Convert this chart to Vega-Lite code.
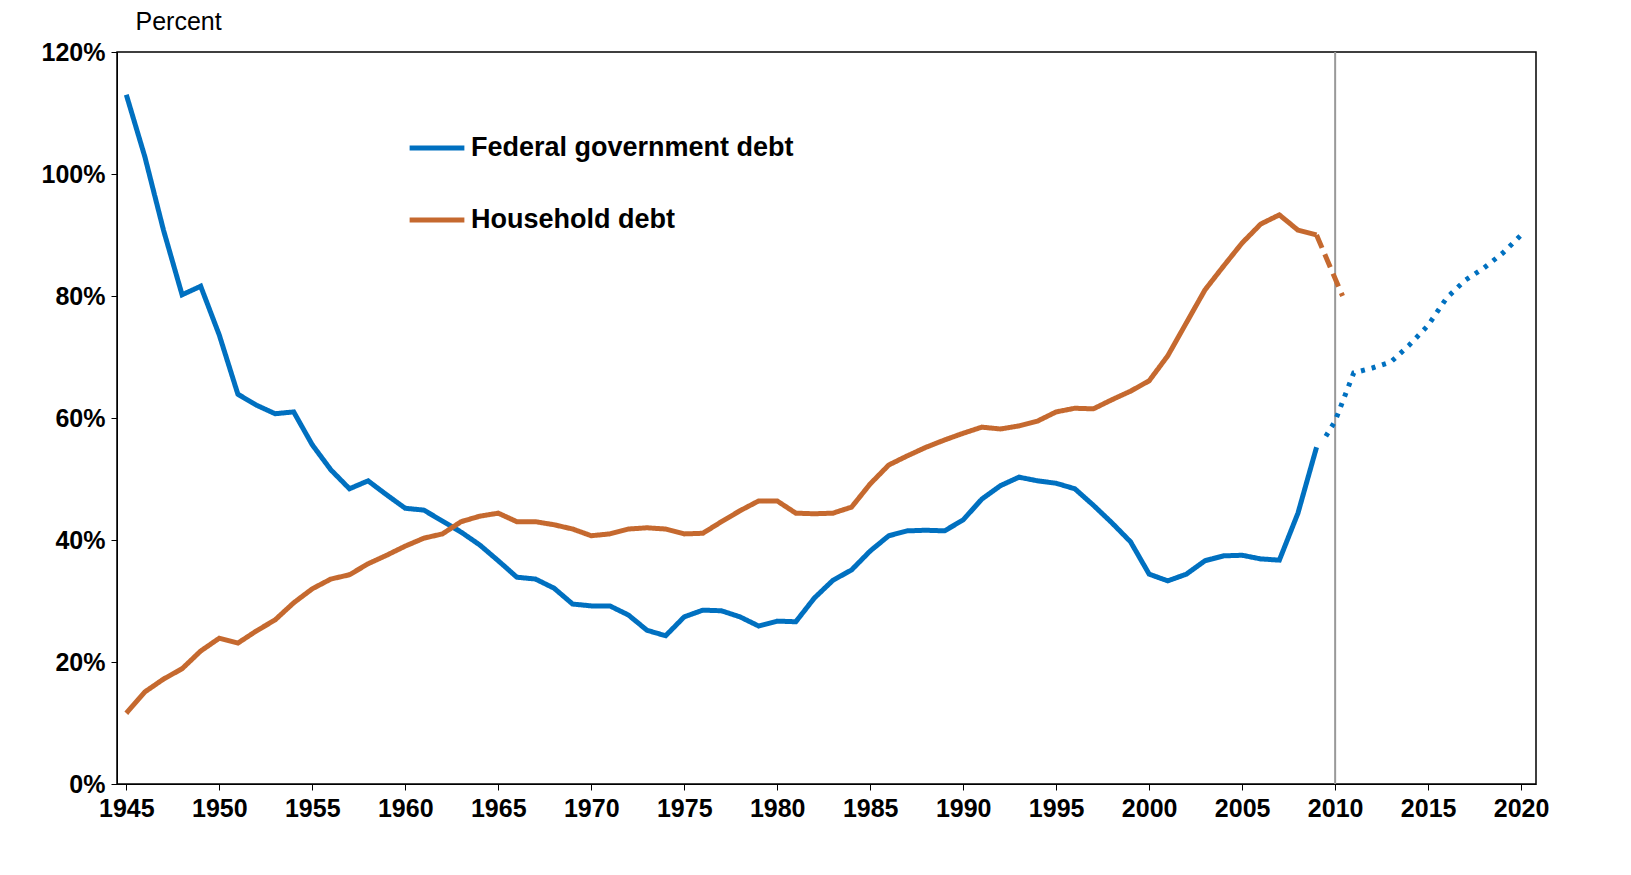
{"$schema":"https://vega.github.io/schema/vega-lite/v6.json","width":1419,"height":732,"autosize":"none","padding":{"left":117,"top":52,"right":95,"bottom":91},"background":"white",
"config":{"font":"Liberation Sans","view":{"stroke":"black","strokeWidth":1.5}},
"datasets":{"d":[
{"s":"Federal government debt","g":"a","year":1945,"v":113},{"s":"Federal government debt","g":"a","year":1946,"v":102.8},{"s":"Federal government debt","g":"a","year":1947,"v":90.8},{"s":"Federal government debt","g":"a","year":1948,"v":80.2},{"s":"Federal government debt","g":"a","year":1949,"v":81.6},{"s":"Federal government debt","g":"a","year":1950,"v":73.6},{"s":"Federal government debt","g":"a","year":1951,"v":63.9},{"s":"Federal government debt","g":"a","year":1952,"v":62.1},{"s":"Federal government debt","g":"a","year":1953,"v":60.7},{"s":"Federal government debt","g":"a","year":1954,"v":61},{"s":"Federal government debt","g":"a","year":1955,"v":55.6},{"s":"Federal government debt","g":"a","year":1956,"v":51.5},{"s":"Federal government debt","g":"a","year":1957,"v":48.4},{"s":"Federal government debt","g":"a","year":1958,"v":49.7},{"s":"Federal government debt","g":"a","year":1959,"v":47.4},{"s":"Federal government debt","g":"a","year":1960,"v":45.2},{"s":"Federal government debt","g":"a","year":1961,"v":44.9},{"s":"Federal government debt","g":"a","year":1962,"v":43.1},{"s":"Federal government debt","g":"a","year":1963,"v":41.3},{"s":"Federal government debt","g":"a","year":1964,"v":39.2},{"s":"Federal government debt","g":"a","year":1965,"v":36.6},{"s":"Federal government debt","g":"a","year":1966,"v":33.9},{"s":"Federal government debt","g":"a","year":1967,"v":33.6},{"s":"Federal government debt","g":"a","year":1968,"v":32.1},{"s":"Federal government debt","g":"a","year":1969,"v":29.5},{"s":"Federal government debt","g":"a","year":1970,"v":29.2},{"s":"Federal government debt","g":"a","year":1971,"v":29.2},{"s":"Federal government debt","g":"a","year":1972,"v":27.7},{"s":"Federal government debt","g":"a","year":1973,"v":25.2},{"s":"Federal government debt","g":"a","year":1974,"v":24.3},{"s":"Federal government debt","g":"a","year":1975,"v":27.4},{"s":"Federal government debt","g":"a","year":1976,"v":28.5},{"s":"Federal government debt","g":"a","year":1977,"v":28.4},{"s":"Federal government debt","g":"a","year":1978,"v":27.4},{"s":"Federal government debt","g":"a","year":1979,"v":25.9},{"s":"Federal government debt","g":"a","year":1980,"v":26.7},{"s":"Federal government debt","g":"a","year":1981,"v":26.6},{"s":"Federal government debt","g":"a","year":1982,"v":30.5},{"s":"Federal government debt","g":"a","year":1983,"v":33.4},{"s":"Federal government debt","g":"a","year":1984,"v":35.1},{"s":"Federal government debt","g":"a","year":1985,"v":38.2},{"s":"Federal government debt","g":"a","year":1986,"v":40.7},{"s":"Federal government debt","g":"a","year":1987,"v":41.5},{"s":"Federal government debt","g":"a","year":1988,"v":41.6},{"s":"Federal government debt","g":"a","year":1989,"v":41.5},{"s":"Federal government debt","g":"a","year":1990,"v":43.3},{"s":"Federal government debt","g":"a","year":1991,"v":46.7},{"s":"Federal government debt","g":"a","year":1992,"v":48.9},{"s":"Federal government debt","g":"a","year":1993,"v":50.3},{"s":"Federal government debt","g":"a","year":1994,"v":49.7},{"s":"Federal government debt","g":"a","year":1995,"v":49.3},{"s":"Federal government debt","g":"a","year":1996,"v":48.4},{"s":"Federal government debt","g":"a","year":1997,"v":45.7},{"s":"Federal government debt","g":"a","year":1998,"v":42.8},{"s":"Federal government debt","g":"a","year":1999,"v":39.7},{"s":"Federal government debt","g":"a","year":2000,"v":34.4},{"s":"Federal government debt","g":"a","year":2001,"v":33.3},{"s":"Federal government debt","g":"a","year":2002,"v":34.4},{"s":"Federal government debt","g":"a","year":2003,"v":36.6},{"s":"Federal government debt","g":"a","year":2004,"v":37.4},{"s":"Federal government debt","g":"a","year":2005,"v":37.5},{"s":"Federal government debt","g":"a","year":2006,"v":36.9},{"s":"Federal government debt","g":"a","year":2007,"v":36.7},{"s":"Federal government debt","g":"a","year":2008,"v":44.4},{"s":"Federal government debt","g":"a","year":2009,"v":55.2},
{"s":"Federal government debt","g":"p","year":2009.5,"v":57},{"s":"Federal government debt","g":"p","year":2010,"v":59.5},{"s":"Federal government debt","g":"p","year":2011,"v":67.4},{"s":"Federal government debt","g":"p","year":2012,"v":68.2},{"s":"Federal government debt","g":"p","year":2013,"v":69.2},{"s":"Federal government debt","g":"p","year":2014,"v":72},{"s":"Federal government debt","g":"p","year":2015,"v":75.2},{"s":"Federal government debt","g":"p","year":2016,"v":79.7},{"s":"Federal government debt","g":"p","year":2017,"v":82.6},{"s":"Federal government debt","g":"p","year":2018,"v":84.6},{"s":"Federal government debt","g":"p","year":2019,"v":87},{"s":"Federal government debt","g":"p","year":2020,"v":90},
{"s":"Household debt","g":"a","year":1945,"v":11.6},{"s":"Household debt","g":"a","year":1946,"v":15.1},{"s":"Household debt","g":"a","year":1947,"v":17.2},{"s":"Household debt","g":"a","year":1948,"v":18.9},{"s":"Household debt","g":"a","year":1949,"v":21.8},{"s":"Household debt","g":"a","year":1950,"v":23.9},{"s":"Household debt","g":"a","year":1951,"v":23.1},{"s":"Household debt","g":"a","year":1952,"v":25.1},{"s":"Household debt","g":"a","year":1953,"v":26.9},{"s":"Household debt","g":"a","year":1954,"v":29.7},{"s":"Household debt","g":"a","year":1955,"v":32},{"s":"Household debt","g":"a","year":1956,"v":33.6},{"s":"Household debt","g":"a","year":1957,"v":34.3},{"s":"Household debt","g":"a","year":1958,"v":36.1},{"s":"Household debt","g":"a","year":1959,"v":37.5},{"s":"Household debt","g":"a","year":1960,"v":39},{"s":"Household debt","g":"a","year":1961,"v":40.3},{"s":"Household debt","g":"a","year":1962,"v":41},{"s":"Household debt","g":"a","year":1963,"v":43},{"s":"Household debt","g":"a","year":1964,"v":43.9},{"s":"Household debt","g":"a","year":1965,"v":44.4},{"s":"Household debt","g":"a","year":1966,"v":43},{"s":"Household debt","g":"a","year":1967,"v":43},{"s":"Household debt","g":"a","year":1968,"v":42.5},{"s":"Household debt","g":"a","year":1969,"v":41.8},{"s":"Household debt","g":"a","year":1970,"v":40.7},{"s":"Household debt","g":"a","year":1971,"v":41},{"s":"Household debt","g":"a","year":1972,"v":41.8},{"s":"Household debt","g":"a","year":1973,"v":42},{"s":"Household debt","g":"a","year":1974,"v":41.8},{"s":"Household debt","g":"a","year":1975,"v":41},{"s":"Household debt","g":"a","year":1976,"v":41.1},{"s":"Household debt","g":"a","year":1977,"v":43},{"s":"Household debt","g":"a","year":1978,"v":44.8},{"s":"Household debt","g":"a","year":1979,"v":46.4},{"s":"Household debt","g":"a","year":1980,"v":46.4},{"s":"Household debt","g":"a","year":1981,"v":44.4},{"s":"Household debt","g":"a","year":1982,"v":44.3},{"s":"Household debt","g":"a","year":1983,"v":44.4},{"s":"Household debt","g":"a","year":1984,"v":45.4},{"s":"Household debt","g":"a","year":1985,"v":49.2},{"s":"Household debt","g":"a","year":1986,"v":52.3},{"s":"Household debt","g":"a","year":1987,"v":53.8},{"s":"Household debt","g":"a","year":1988,"v":55.2},{"s":"Household debt","g":"a","year":1989,"v":56.4},{"s":"Household debt","g":"a","year":1990,"v":57.5},{"s":"Household debt","g":"a","year":1991,"v":58.5},{"s":"Household debt","g":"a","year":1992,"v":58.2},{"s":"Household debt","g":"a","year":1993,"v":58.7},{"s":"Household debt","g":"a","year":1994,"v":59.5},{"s":"Household debt","g":"a","year":1995,"v":61},{"s":"Household debt","g":"a","year":1996,"v":61.6},{"s":"Household debt","g":"a","year":1997,"v":61.5},{"s":"Household debt","g":"a","year":1998,"v":63},{"s":"Household debt","g":"a","year":1999,"v":64.4},{"s":"Household debt","g":"a","year":2000,"v":66.1},{"s":"Household debt","g":"a","year":2001,"v":70.2},{"s":"Household debt","g":"a","year":2002,"v":75.6},{"s":"Household debt","g":"a","year":2003,"v":81},{"s":"Household debt","g":"a","year":2004,"v":84.9},{"s":"Household debt","g":"a","year":2005,"v":88.7},{"s":"Household debt","g":"a","year":2006,"v":91.8},{"s":"Household debt","g":"a","year":2007,"v":93.3},{"s":"Household debt","g":"a","year":2008,"v":90.8},{"s":"Household debt","g":"a","year":2009,"v":90},
{"s":"Household debt","g":"h","year":2009,"v":90},{"s":"Household debt","g":"h","year":2010.4,"v":80}
],"r":[{"year":2010}]},
"layer":[
{"data":{"name":"r"},"mark":{"type":"rule","color":"#999999","strokeWidth":2},"encoding":{"x":{"field":"year","type":"quantitative"}}},
{"data":{"name":"d"},"mark":{"type":"line","strokeWidth":5,"strokeCap":"butt"},
"encoding":{
"x":{"field":"year","type":"quantitative","scale":{"domain":[1944.5,2020.8],"nice":false,"zero":false},
"axis":{"values":[1945,1950,1955,1960,1965,1970,1975,1980,1985,1990,1995,2000,2005,2010,2015,2020],"format":"d","title":null,"grid":false,"labelFontSize":25,"labelFontWeight":"bold","labelColor":"black","domainColor":"black","tickColor":"black","tickSize":6,"labelPadding":6}},
"y":{"field":"v","type":"quantitative","scale":{"domain":[0,120],"nice":false},
"axis":{"values":[0,20,40,60,80,100,120],"labelExpr":"datum.value + '%'","grid":false,"labelFontSize":25,"labelFontWeight":"bold","labelColor":"black","domainColor":"black","tickColor":"black","tickSize":6,"labelPadding":6,"title":"Percent","titleAngle":0,"titleAnchor":"end","titleAlign":"left","titleBaseline":"bottom","titleX":18,"titleY":-18,"titleFontSize":25,"titleFontWeight":"normal"}},
"color":{"field":"s","type":"nominal","scale":{"domain":["Federal government debt","Household debt"],"range":["#0070c0","#c5692f"]},
"legend":{"title":null,"orient":"none","legendX":290,"legendY":66,"symbolType":"stroke","symbolSize":3000,"symbolStrokeWidth":5,"labelFontSize":27,"labelFontWeight":"bold","labelColor":"black","rowPadding":29,"labelOffset":4,"labelLimit":600}},
"detail":{"field":"g"},
"strokeDash":{"field":"g","type":"nominal","scale":{"domain":["a","p","h"],"range":[[1,0],[4,7],[14,7]]},"legend":null}}}
]}
